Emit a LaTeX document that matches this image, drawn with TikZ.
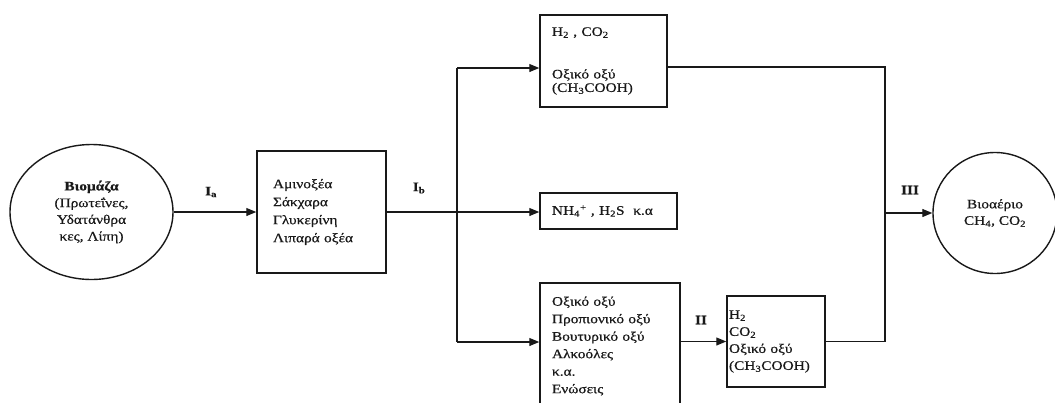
\documentclass[tikz,border=0pt]{standalone}
\usepackage{fontspec}
\setmainfont{Liberation Serif}[FakeStretch=1.18, FakeBold=0.6]
\usetikzlibrary{arrows.meta,shapes.geometric}
\begin{document}
\begin{tikzpicture}[x=1pt,y=-1pt,
  every node/.style={font=\fontsize{13}{17}\selectfont, text=black!90},
  procbox/.style={draw=black!90, line width=1.5pt, rectangle, align=left, inner ysep=0pt},
  blob/.style={draw=black!90, line width=1.4pt, ellipse, inner sep=0pt, align=center},
  conn/.style={draw=black!90, line width=1.2pt},
  arr/.style={conn, -{Triangle[length=10pt,width=8pt]}},
  lbl/.style={font=\fontsize{13}{15}\selectfont\bfseries}]
\useasboundingbox (0,0) rectangle (1055,402);
\clip (0,0) rectangle (1055,402);

% circles
\node[blob, minimum width=163pt, minimum height=135pt, font=\fontsize{13}{16.7}\selectfont] (bio) at (91.5,212)
  {\textbf{Βιομάζα}\\(Πρωτεΐνες,\\Υδατάνθρα\\κες, Λίπη)};
\node[blob, minimum width=124pt, minimum height=121pt, font=\fontsize{13}{16.5}\selectfont] (gas) at (995,213)
  {Βιοαέριο\\CH\textsubscript{4}, CO\textsubscript{2}};

% boxes
\node[procbox, minimum height=122pt, text width=97pt, inner xsep=16pt, font=\fontsize{13}{18}\selectfont] (amino) at (321.5,212)
  {Αμινοξέα\\Σάκχαρα\\Γλυκερίνη\\Λιπαρά οξέα};
\node[procbox, minimum height=92pt, text width=103pt, inner xsep=12pt, font=\fontsize{13}{13.5}\selectfont] (top) at (603.5,61)
  {H\textsubscript{2} , CO\textsubscript{2}\\[29pt]Οξικό οξύ\\(CH\textsubscript{3}COOH)};
\node[procbox, minimum height=36pt, text width=113pt, inner xsep=12pt] (mid) at (608.5,211)
  {NH\textsubscript{4}\textsuperscript{+} , H\textsubscript{2}S \ κ.α};
\node[procbox, minimum height=126pt, text width=116pt, inner xsep=12pt, font=\fontsize{13}{17.5}\selectfont] (bot) at (610,346)
  {Οξικό οξύ\\Προπιονικό οξύ\\Βουτυρικό οξύ\\Αλκοόλες\\κ.α.\\Ενώσεις};
\node[procbox, minimum height=91pt, text width=94pt, inner xsep=2pt, font=\fontsize{13}{17}\selectfont] (lr) at (776,341.5)
  {H\textsubscript{2}\\CO\textsubscript{2}\\Οξικό οξύ\\(CH\textsubscript{3}COOH)};

% junction coordinates
\coordinate (jt) at (457,68);
\coordinate (jm) at (457,212);
\coordinate (jb) at (457,342);
\coordinate (kt) at (885,67);
\coordinate (km) at (885,213);
\coordinate (kb) at (885,341.5);

% connectors
\draw[arr] (bio) -- (amino);
\draw[conn] (amino.east) -- (jm);
\draw[conn] (jt) -- (jb);
\draw[arr] (jt) -- (top.west |- jt);
\draw[arr] (jm) -- (mid.west |- jm);
\draw[arr] (jb) -- (bot.west |- jb);
\draw[arr] (bot.east |- lr.west) -- (lr.west);
\draw[conn] (top.east |- kt) -- (kt) -- (kb) -- (lr.east);
\draw[arr] (km) -- (gas.west);

% labels
\node[lbl] (la) at (211,192) {I\textsubscript{a}};
\node[lbl] (lb) at (419,188) {I\textsubscript{b}};
\node[lbl] (l2) at (701,320) {II};
\node[lbl] (l3) at (910,190) {III};
\end{tikzpicture}
\end{document}
